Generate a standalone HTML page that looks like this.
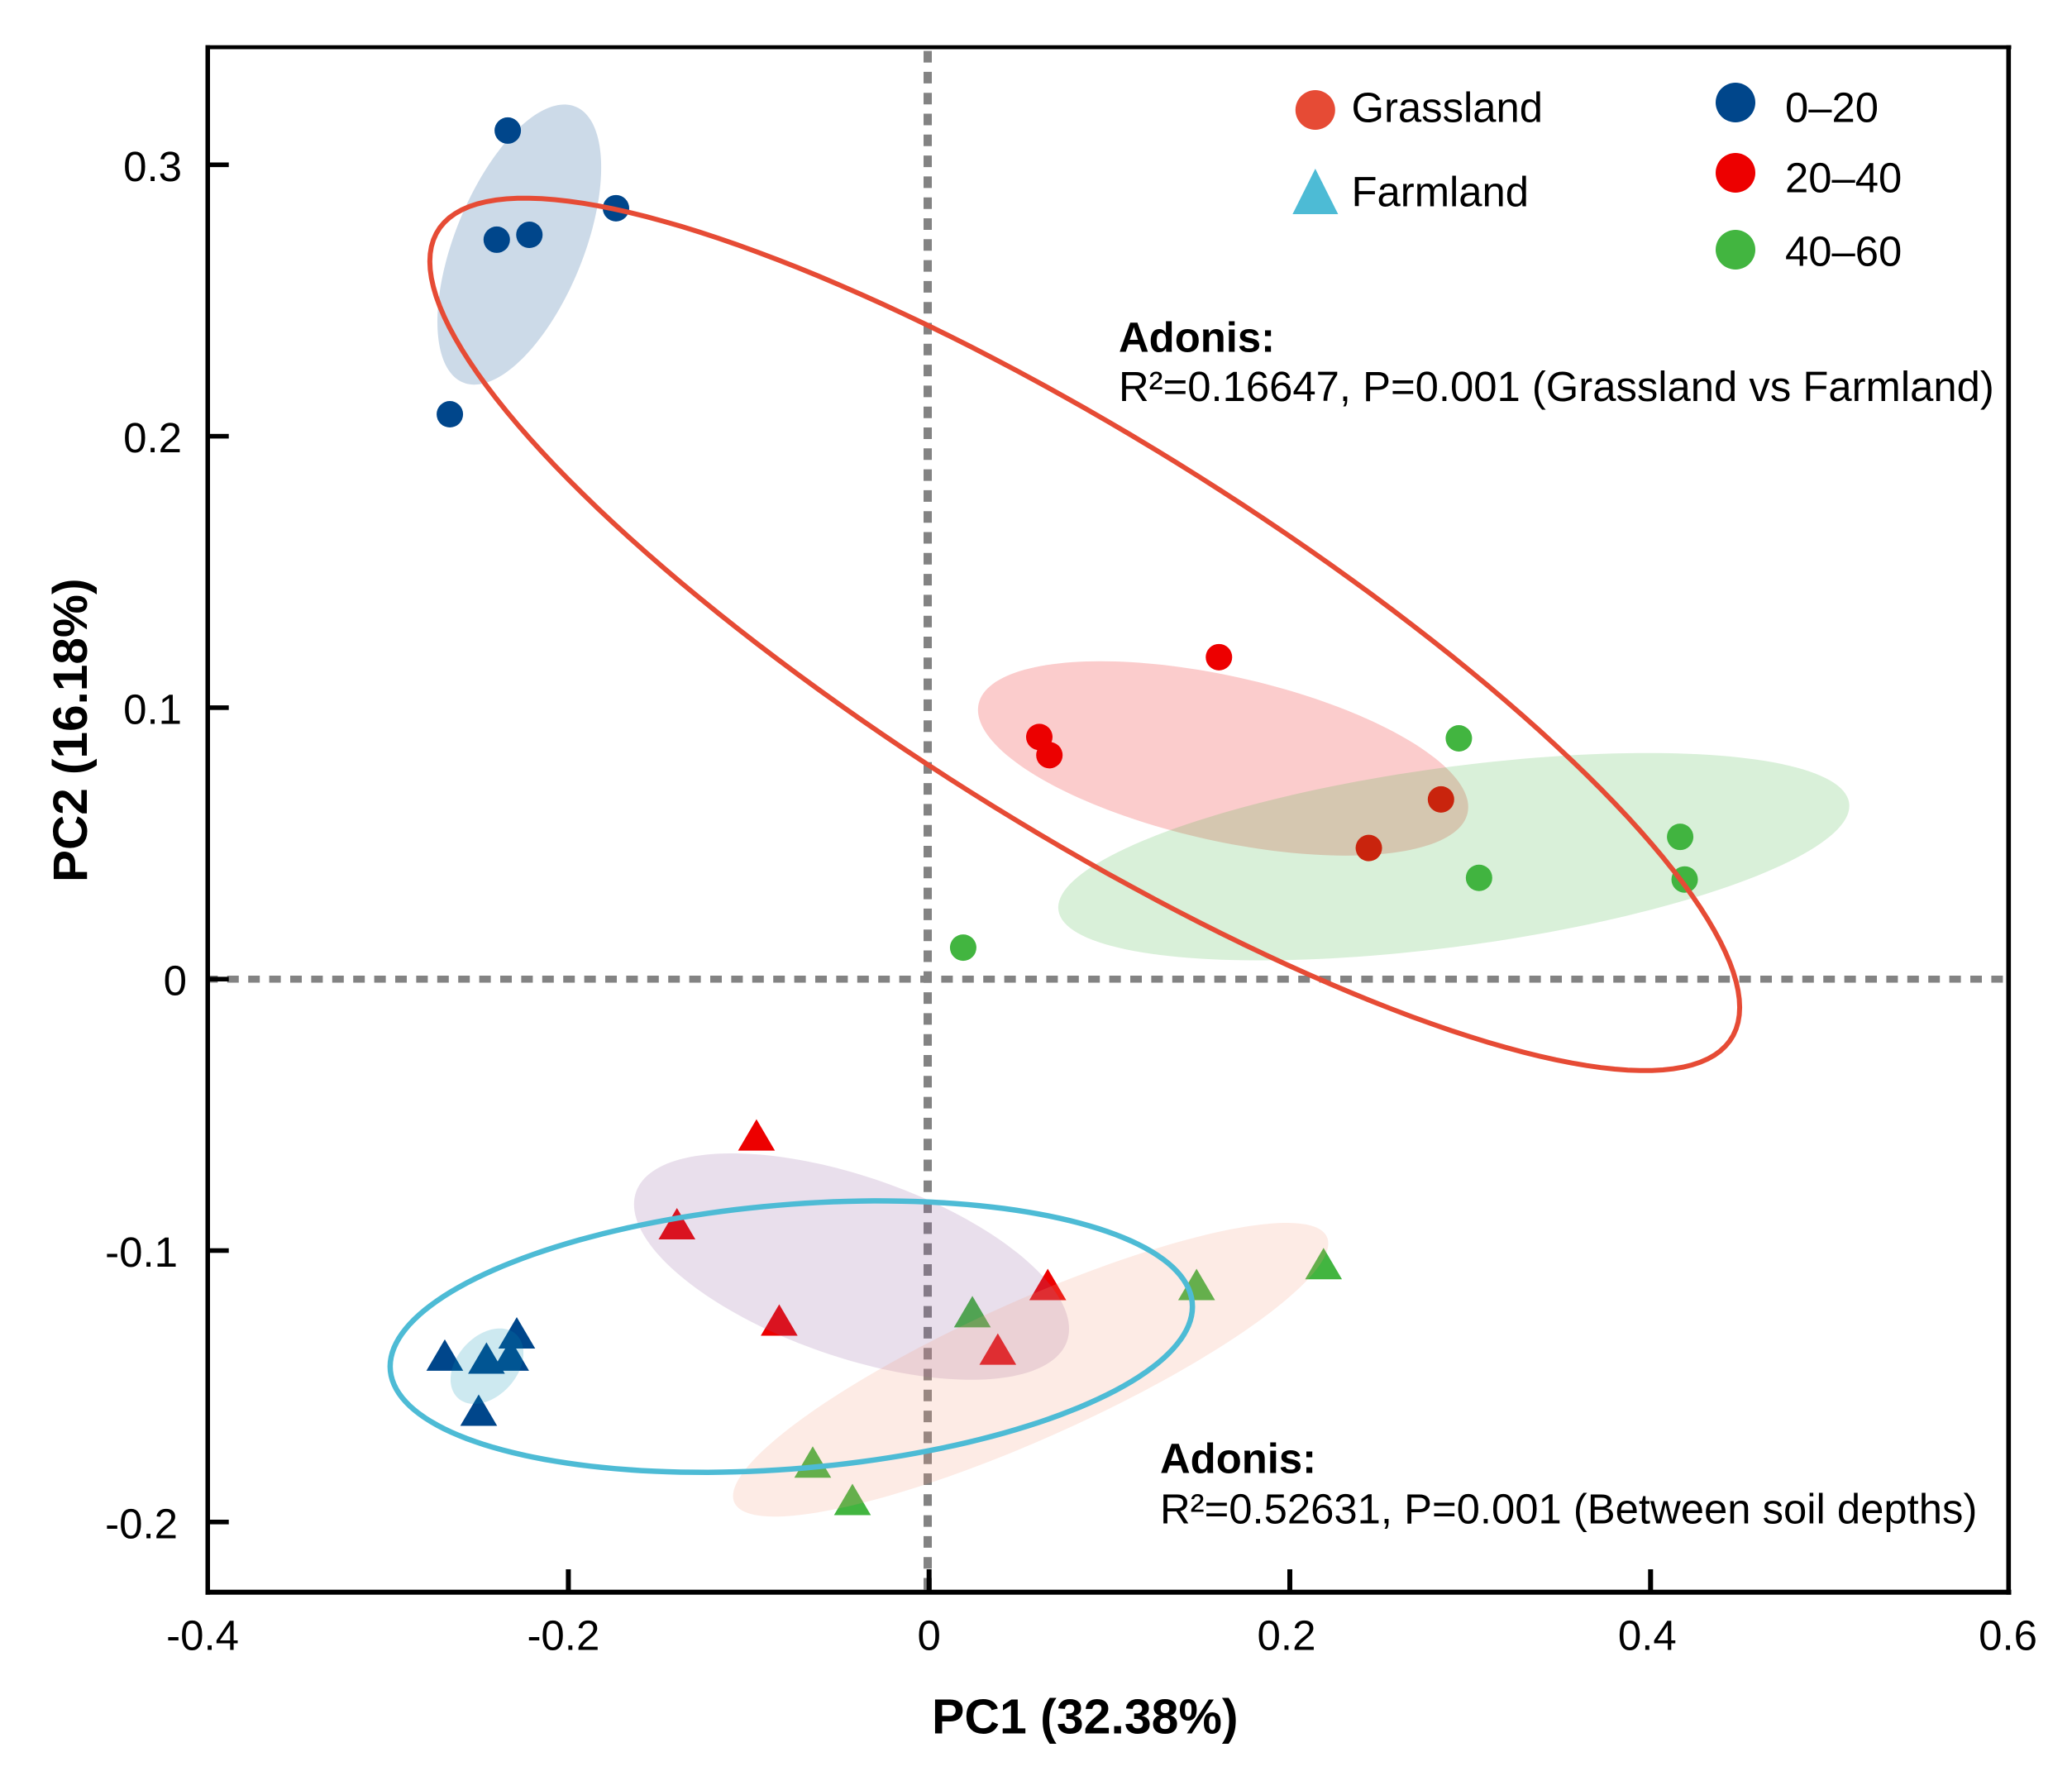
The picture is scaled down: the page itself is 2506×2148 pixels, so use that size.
<!DOCTYPE html>
<html lang="en">
<head>
<meta charset="utf-8">
<title>PCoA chart</title>
<style>
html,body{margin:0;padding:0;background:#fff;}
svg{display:block;}
text{font-family:"Liberation Sans",Arial,sans-serif;fill:#000;}
.lbl{font-size:50.8px;}
.bold{font-weight:bold;}
.tick{font-size:51px;}
.title{font-size:58.5px;font-weight:bold;}
</style>
</head>
<body>
<svg id="chart" xmlns="http://www.w3.org/2000/svg" width="2506" height="2148" viewBox="0 0 2506 2148">
  <g id="reference-lines"></g>
  <g id="points"></g>
  <g id="fills"></g>
  <g id="outlines"></g>
  <g id="axes"></g>
  <g id="legend">
    <circle cx="1590.8" cy="133" r="24" fill="#E64B35"/>
    <text class="lbl" x="1634.5" y="147.3">Grassland</text>
    <polygon points="1590.8,204 1618.4,259 1563.3,259" fill="#4DBBD5"/>
    <text class="lbl" x="1634.5" y="249.3">Farmland</text>
    <circle cx="2099" cy="124" r="24" fill="#00468B"/>
    <text class="lbl" x="2159" y="147.3">0–20</text>
    <circle cx="2099" cy="209" r="24" fill="#ED0000"/>
    <text class="lbl" x="2159" y="232.3">20–40</text>
    <circle cx="2099" cy="302" r="24" fill="#42B540"/>
    <text class="lbl" x="2159" y="321.7">40–60</text>
  </g>
  <g id="annotations">
    <text class="lbl bold" x="1353" y="425.7">Adonis:</text>
    <text class="lbl" x="1353" y="485">R²=0.16647, P=0.001 (Grassland vs Farmland)</text>
    <text class="lbl bold" x="1403" y="1781.7">Adonis:</text>
    <text class="lbl" x="1403" y="1842.7">R²=0.52631, P=0.001 (Between soil depths)</text>
  </g>
  <text class="title" style="font-size:59px" x="1127" y="2096.7">PC1 (32.38%)</text>
  <text class="title" transform="translate(105,1067) rotate(-90)">PC2 (16.18%)</text>
</svg>
<script>
// Axis ticks
const xTickValues = [-0.4, -0.2, 0, 0.2, 0.4, 0.6];
const xTickLabels = ['-0.4', '-0.2', '0', '0.2', '0.4', '0.6'];
const yTickValues = [0.3, 0.2, 0.1, 0, -0.1, -0.2];
const yTickLabels = ['0.3', '0.2', '0.1', '0', '-0.1', '-0.2'];

// Grassland samples (circles)
const grass020X = [-0.2336, -0.1736, -0.2397, -0.2216, -0.2657];
const grass020Y = [0.3126, 0.2840, 0.2724, 0.2742, 0.2081];
const grass2040X = [0.1607, 0.0611, 0.0667, 0.2838, 0.2438];
const grass2040Y = [0.1186, 0.0892, 0.0825, 0.0662, 0.0483];
const grass4060X = [0.2937, 0.4164, 0.4189, 0.3049, 0.0189];
const grass4060Y = [0.0887, 0.0524, 0.0367, 0.0373, 0.0116];

// Farmland samples (triangles)
const farm020X = [-0.2685, -0.2320, -0.2454, -0.2286, -0.2497];
const farm020Y = [-0.1385, -0.1385, -0.1396, -0.1303, -0.1588];
const farm2040X = [-0.0957, -0.1398, -0.0831, 0.0658, 0.0381];
const farm2040Y = [-0.0574, -0.0901, -0.1256, -0.1125, -0.1363];
const farm4060X = [0.2187, 0.1483, 0.0240, -0.0645, -0.0425];
const farm4060Y = [-0.1048, -0.1125, -0.1225, -0.1779, -0.1917];

// Ellipses in data units: [centre x, centre y, half-extent x, half-extent y, correlation]
const ellipseGrass020 = [-0.2272, 0.2706, 0.0454, 0.0516, 0.55];
const ellipseGrass2040 = [0.1630, 0.0813, 0.1359, 0.0358, -0.5];
const ellipseGrass4060 = [0.2909, 0.0451, 0.2193, 0.0382, 0.49];
const ellipseFarm020 = [-0.2451, -0.1426, 0.0202, 0.0139, 0.35];
const ellipseFarm2040 = [-0.0430, -0.1059, 0.1206, 0.0417, -0.55];
const ellipseFarm4060 = [0.0563, -0.1439, 0.1650, 0.0541, 0.86];
const ellipseGrassland = [0.0863, 0.1270, 0.3631, 0.1607, -0.855];
const ellipseFarmland = [-0.0764, -0.1317, 0.2224, 0.0500, 0.22];

const NS = 'http://www.w3.org/2000/svg';
function sx(v) { return 1123.7 + 2181.5 * v; }
function sy(v) { return 1184.2 - 3283 * v; }

function make(parent, tag, attrs) {
  const el = document.createElementNS(NS, tag);
  for (const k in attrs) el.setAttribute(k, attrs[k]);
  parent.appendChild(el);
  return el;
}

function ellipsePath(e) {
  const phi = Math.acos(e[4]);
  let d = '';
  for (let deg = 0; deg < 360; deg += 2) {
    const t = deg * Math.PI / 180;
    const px = sx(e[0] + e[2] * Math.cos(t));
    const py = sy(e[1] + e[3] * Math.cos(t + phi));
    d += (deg === 0 ? 'M' : 'L') + px.toFixed(2) + ' ' + py.toFixed(2);
  }
  return d + 'Z';
}

function drawCircles(xs, ys, color, name) {
  const host = document.getElementById('points');
  xs.forEach(function (x, i) {
    const el = make(host, 'circle', { cx: sx(x), cy: sy(ys[i]), r: 16, fill: color });
    
    
  });
}

function drawTriangles(xs, ys, color, name) {
  const host = document.getElementById('points');
  xs.forEach(function (x, i) {
    const cx = sx(x), cy = sy(ys[i]);
    const pts = cx + ',' + (cy - 19) + ' ' + (cx + 22.3) + ',' + (cy + 19) + ' ' + (cx - 22.3) + ',' + (cy + 19);
    const el = make(host, 'polygon', { points: pts, fill: color });
    
    
  });
}

function drawFill(e, color, name) {
  const host = document.getElementById('fills');
  const el = make(host, 'path', { d: ellipsePath(e), fill: color, 'fill-opacity': 0.2 });
  
  
}

function drawOutline(e, color, width, name) {
  const host = document.getElementById('outlines');
  const el = make(host, 'path', { d: ellipsePath(e), fill: 'none', stroke: color, 'stroke-width': width });
  
  
}

// Dashed zero lines
(function () {
  const host = document.getElementById('reference-lines');
  const h = make(host, 'line', { x1: 249.4, x2: 2429, y1: sy(0), y2: sy(0), stroke: '#838383', 'stroke-width': 8.5, 'stroke-dasharray': '14 11.4' });
  
  
  const v = make(host, 'line', { x1: 1122, x2: 1122, y1: 61.6, y2: 1925, stroke: '#838383', 'stroke-width': 10, 'stroke-dasharray': '14 11.3' });
  
  
})();

drawCircles(grass020X, grass020Y, '#00468B', 'grassland-0-20-point');
drawCircles(grass2040X, grass2040Y, '#ED0000', 'grassland-20-40-point');
drawCircles(grass4060X, grass4060Y, '#42B540', 'grassland-40-60-point');
drawTriangles(farm020X, farm020Y, '#00468B', 'farmland-0-20-point');
drawTriangles(farm2040X, farm2040Y, '#ED0000', 'farmland-20-40-point');
drawTriangles(farm4060X, farm4060Y, '#42B540', 'farmland-40-60-point');

drawFill(ellipseGrass020, '#00468B', 'grassland-0-20-ellipse');
drawFill(ellipseGrass2040, '#ED0000', 'grassland-20-40-ellipse');
drawFill(ellipseGrass4060, '#42B540', 'grassland-40-60-ellipse');
drawFill(ellipseFarm020, '#0591B4', 'farmland-0-20-ellipse');
drawFill(ellipseFarm2040, '#925E9F', 'farmland-20-40-ellipse');
drawFill(ellipseFarm4060, '#F39B7F', 'farmland-40-60-ellipse');

drawOutline(ellipseGrassland, '#E64B35', 6, 'grassland-ellipse');
drawOutline(ellipseFarmland, '#4DBBD5', 6.5, 'farmland-ellipse');

// Axes
(function () {
  const host = document.getElementById('axes');
  const left = make(host, 'rect', { x: 248.5, y: 54.7, width: 5.5, height: 1874, fill: '#000' });
  
  
  const bottom = make(host, 'rect', { x: 248.5, y: 1922.7, width: 2184, height: 6, fill: '#000' });
  
  
  const top = make(host, 'rect', { x: 248.5, y: 54.7, width: 2184, height: 4.8, fill: '#000' });
  
  
  const right = make(host, 'rect', { x: 2426.5, y: 54.7, width: 5.6, height: 1874, fill: '#000' });
  
  

  xTickValues.forEach(function (v, i) {
    if (i > 0 && i < xTickValues.length - 1) {
      const tick = make(host, 'rect', { x: sx(v) - 3, y: 1898, width: 6, height: 26, fill: '#000' });
      
      
    }
    const dx = v === 0 ? 0 : (v < 0 ? -6 : -4);
    const t = make(host, 'text', { x: sx(v) + dx, y: 1995.7, 'text-anchor': 'middle', class: 'tick' });
    t.textContent = xTickLabels[i];
    
    
  });

  yTickValues.forEach(function (v, i) {
    const tick = make(host, 'rect', { x: 251, y: sy(v) - 2.8, width: 25.7, height: 5.6, fill: '#000' });
    
    
    const label = yTickLabels[i];
    const anchorX = v === 0 ? 226 : (v < 0 ? 215 : 220);
    const t = make(host, 'text', { x: anchorX, y: sy(v) + 19.5, 'text-anchor': 'end', class: 'tick' });
    t.textContent = label;
    
    
  });
})();
</script>
</body>
</html>
